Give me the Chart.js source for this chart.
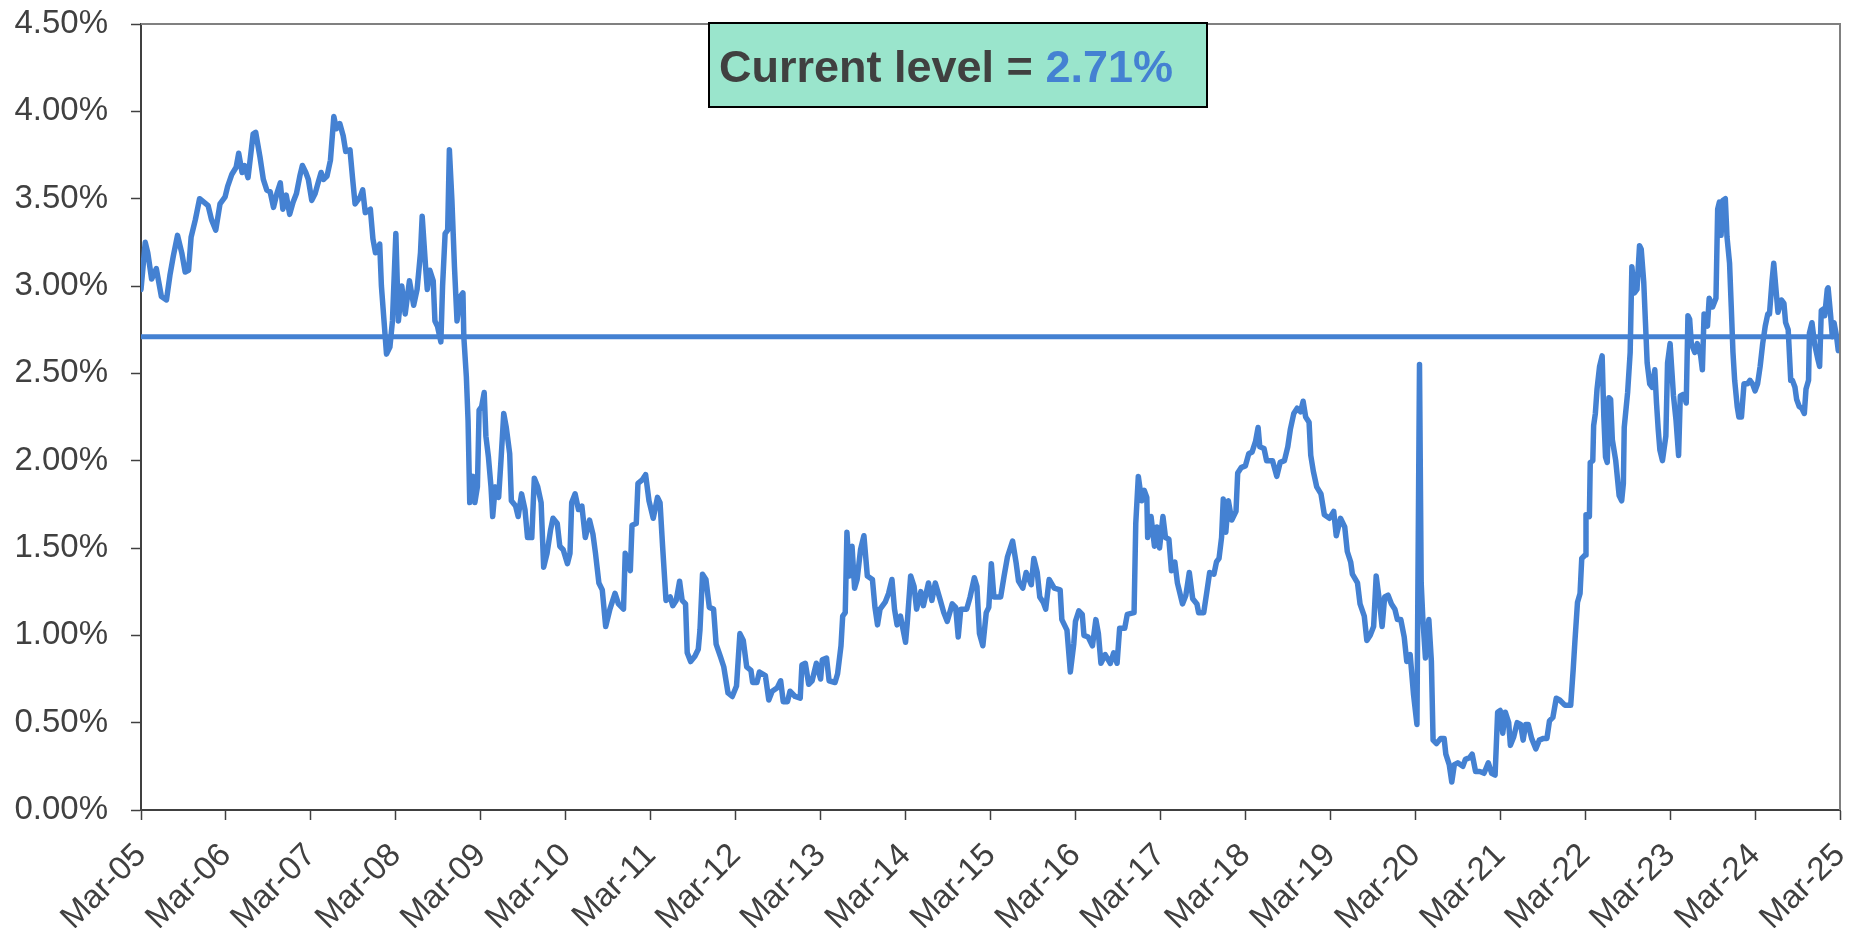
<!DOCTYPE html>
<html>
<head>
<meta charset="utf-8">
<script src="https://cdn.jsdelivr.net/npm/chart.js@4.4.1/dist/chart.umd.min.js"></script>
<style>
  html, body { margin: 0; padding: 0; background: #fff; }
  #wrap { width: 1860px; height: 928px; }
</style>
</head>
<body>
<div id="wrap"><canvas id="chartLevel" width="1860" height="928"></canvas></div>
<script>
// x ticks: one per year, starting Mar-05
var tickLabels = ['Mar-05', 'Mar-06', 'Mar-07', 'Mar-08', 'Mar-09', 'Mar-10', 'Mar-11', 'Mar-12', 'Mar-13', 'Mar-14',
  'Mar-15', 'Mar-16', 'Mar-17', 'Mar-18', 'Mar-19', 'Mar-20', 'Mar-21', 'Mar-22', 'Mar-23', 'Mar-24', 'Mar-25']

var currentLevel = 2.71

// years since Mar-05
var years = [
  0, 0.05, 0.08, 0.125, 0.18, 0.24, 0.30, 0.34, 0.38, 0.43, 0.48, 0.52, 0.56, 0.59, 0.64, 0.69, 0.74, 0.79, 0.83, 0.88,
  0.93, 0.99, 1.02, 1.07, 1.12, 1.15, 1.19, 1.22, 1.26, 1.32, 1.35, 1.40, 1.44, 1.48, 1.52, 1.56, 1.60, 1.64, 1.67, 1.71,
  1.75, 1.79, 1.83, 1.87, 1.90, 1.94, 1.97, 2.01, 2.05, 2.09, 2.12, 2.15, 2.19,
  2.23, 2.27, 2.30, 2.34, 2.38, 2.41, 2.46, 2.49, 2.52, 2.58, 2.61, 2.64, 2.70, 2.73, 2.76, 2.81, 2.83, 2.89, 2.93, 2.96,
  3.00, 3.03, 3.07, 3.11, 3.16, 3.21, 3.25, 3.29, 3.31, 3.35, 3.37, 3.40, 3.44, 3.46, 3.49, 3.53, 3.55, 3.58, 3.61, 3.63,
  3.66, 3.69, 3.72, 3.76, 3.79, 3.80, 3.83, 3.85, 3.87, 3.91, 3.93, 3.96, 3.98, 4.01, 4.04, 4.06, 4.09, 4.12, 4.14, 4.17,
  4.21, 4.24, 4.27, 4.30, 4.34, 4.36, 4.41, 4.44, 4.48, 4.52, 4.55, 4.60, 4.63, 4.67, 4.71, 4.74, 4.78, 4.82, 4.85, 4.90,
  4.93, 4.97, 5.02, 5.05, 5.07, 5.11, 5.15, 5.19, 5.23, 5.28, 5.32, 5.35, 5.39,
  5.43, 5.47, 5.52, 5.58, 5.62, 5.68, 5.70, 5.76, 5.78, 5.83, 5.85, 5.90, 5.94, 5.98, 6.03, 6.08, 6.11, 6.14, 6.18, 6.23,
  6.26, 6.30, 6.34, 6.37, 6.41, 6.43, 6.47, 6.52, 6.56, 6.58, 6.61, 6.65, 6.69, 6.74, 6.77, 6.82, 6.86, 6.91, 6.96, 7.01,
  7.05, 7.09, 7.13, 7.18, 7.20, 7.25, 7.28, 7.35, 7.39, 7.43, 7.49, 7.53, 7.56, 7.61, 7.64, 7.70, 7.76, 7.78, 7.82, 7.86,
  7.90, 7.95, 8.00, 8.02, 8.07, 8.10, 8.17, 8.20, 8.24, 8.26, 8.29, 8.31, 8.34, 8.37, 8.40, 8.43, 8.47, 8.51, 8.55, 8.61,
  8.64, 8.67, 8.70, 8.76, 8.80, 8.84, 8.87, 8.90, 8.94, 9.00, 9.02, 9.06, 9.10, 9.13, 9.18, 9.21, 9.27, 9.31, 9.35, 9.41,
  9.45, 9.49, 9.55, 9.59, 9.62, 9.65, 9.72, 9.76, 9.81, 9.84, 9.87, 9.91, 9.95, 9.98, 10.01, 10.04, 10.08,
  10.12, 10.16, 10.20, 10.26, 10.30, 10.33, 10.38, 10.42, 10.48, 10.51, 10.55, 10.58, 10.62, 10.65, 10.69, 10.75, 10.82,
  10.84, 10.90, 10.94, 10.98, 11.00, 11.04, 11.08, 11.10, 11.15, 11.20, 11.24, 11.27, 11.30, 11.35, 11.41, 11.45, 11.49,
  11.52, 11.58, 11.61, 11.69, 11.71, 11.74, 11.78, 11.81, 11.84, 11.85, 11.89, 11.93, 11.96, 11.99, 12.03, 12.06, 12.10,
  12.13, 12.17, 12.20, 12.26, 12.30, 12.34, 12.38, 12.43, 12.45, 12.51, 12.55, 12.58, 12.63, 12.66, 12.69, 12.72, 12.74,
  12.77, 12.80, 12.84, 12.89, 12.91, 12.95, 13.00, 13.04, 13.08, 13.12, 13.15, 13.17, 13.22, 13.25, 13.32, 13.37, 13.41,
  13.46, 13.50, 13.53, 13.57, 13.61, 13.65, 13.68,
  13.71, 13.75, 13.77, 13.80, 13.84, 13.89, 13.93, 13.99, 14.04, 14.07, 14.12, 14.17, 14.20, 14.24, 14.26, 14.32, 14.35,
  14.40, 14.43, 14.47, 14.51, 14.54, 14.58, 14.61, 14.64, 14.68, 14.72, 14.76, 14.79, 14.83, 14.87, 14.90, 14.94, 14.98,
  15.02, 15.03, 15.05, 15.07, 15.09, 15.12, 15.16, 15.19, 15.21, 15.25, 15.30, 15.34, 15.36, 15.40, 15.43, 15.46, 15.50,
  15.56, 15.59, 15.64, 15.67, 15.71, 15.76, 15.81, 15.86, 15.90, 15.94, 15.97, 16.00, 16.03, 16.06, 16.10, 16.12, 16.16,
  16.20, 16.24, 16.27, 16.30, 16.33, 16.37, 16.42, 16.46, 16.51, 16.55, 16.58, 16.62, 16.66, 16.70, 16.76, 16.83, 16.86,
  16.88, 16.91, 16.94, 16.96,
  17.00, 17.01, 17.05, 17.06, 17.09, 17.10, 17.12, 17.14, 17.17, 17.20, 17.22, 17.24, 17.26, 17.28, 17.30, 17.32, 17.36,
  17.40, 17.43, 17.45, 17.46, 17.50, 17.53, 17.55, 17.58, 17.61, 17.64, 17.66, 17.69, 17.71, 17.73, 17.76, 17.79, 17.82,
  17.84, 17.86, 17.88, 17.91, 17.95, 17.97, 18.00, 18.02, 18.04, 18.07, 18.10, 18.12, 18.16, 18.19, 18.21, 18.23, 18.25,
  18.29, 18.32, 18.36, 18.38, 18.40, 18.44, 18.46, 18.50, 18.54, 18.56, 18.58, 18.60, 18.62, 18.65, 18.67, 18.70, 18.72,
  18.74, 18.76, 18.79, 18.81, 18.84, 18.87, 18.91, 18.94, 18.97, 19.00, 19.03, 19.06, 19.09, 19.12, 19.15, 19.17, 19.20,
  19.22, 19.25, 19.27, 19.31, 19.34, 19.36, 19.39, 19.42, 19.44, 19.47, 19.49, 19.52, 19.55, 19.58, 19.60, 19.63, 19.64,
  19.67, 19.70, 19.74, 19.76, 19.78, 19.81, 19.82, 19.85, 19.86, 19.89, 19.91, 19.93, 19.96, 19.98, 20.00
]

// level in %
var levels = [
  2.98, 3.25, 3.19, 3.04, 3.10, 2.94, 2.92, 3.06, 3.17, 3.29, 3.19, 3.08, 3.09, 3.28, 3.38, 3.50, 3.48, 3.46, 3.38, 3.32,
  3.47, 3.51, 3.57, 3.64, 3.68, 3.76, 3.65, 3.69, 3.62, 3.87, 3.88, 3.74, 3.61, 3.55, 3.54, 3.45, 3.53, 3.59, 3.44, 3.52,
  3.41, 3.48, 3.53, 3.63, 3.69, 3.65, 3.61, 3.49, 3.53, 3.60, 3.65, 3.61, 3.63,
  3.72, 3.97, 3.90, 3.93, 3.86, 3.77, 3.78, 3.62, 3.47, 3.51, 3.55, 3.42, 3.44, 3.27, 3.19, 3.24, 3.00, 2.61, 2.65, 2.80,
  3.30, 2.80, 3.00, 2.84, 3.03, 2.89, 2.98, 3.19, 3.40, 3.11, 2.98, 3.09, 3.03, 2.80, 2.77, 2.68, 3.00, 3.30, 3.32, 3.78,
  3.49, 3.11, 2.80, 2.94, 2.96, 2.71, 2.48, 2.23, 1.76, 1.91, 1.76, 1.85, 2.29, 2.31, 2.39, 2.14, 2.02, 1.85, 1.68, 1.85,
  1.79, 2.02, 2.27, 2.19, 2.04, 1.77, 1.74, 1.68, 1.81, 1.72, 1.56, 1.56, 1.90, 1.85, 1.76, 1.39, 1.47, 1.60, 1.67, 1.64,
  1.51, 1.49, 1.41, 1.47, 1.76, 1.81, 1.72, 1.74, 1.56, 1.66, 1.58, 1.47, 1.30,
  1.26, 1.05, 1.15, 1.24, 1.18, 1.15, 1.47, 1.37, 1.63, 1.64, 1.87, 1.89, 1.92, 1.77, 1.67, 1.79, 1.76, 1.51, 1.20, 1.22,
  1.17, 1.20, 1.31, 1.20, 1.18, 0.90, 0.85, 0.88, 0.92, 1.03, 1.35, 1.32, 1.16, 1.15, 0.95, 0.88, 0.82, 0.67, 0.65, 0.71,
  1.01, 0.97, 0.82, 0.80, 0.73, 0.73, 0.79, 0.77, 0.63, 0.68, 0.70, 0.74, 0.62, 0.62, 0.68, 0.65, 0.64, 0.83, 0.84, 0.72,
  0.74, 0.84, 0.75, 0.86, 0.87, 0.74, 0.73, 0.78, 0.94, 1.11, 1.13, 1.59, 1.34, 1.51, 1.27, 1.32, 1.49, 1.57, 1.34, 1.32,
  1.16, 1.06, 1.15, 1.19, 1.24, 1.32, 1.15, 1.06, 1.11, 0.96, 1.07, 1.34, 1.28, 1.15, 1.25, 1.17, 1.30, 1.20, 1.30, 1.20,
  1.13, 1.08, 1.18, 1.16, 0.99, 1.15, 1.15, 1.22, 1.33, 1.28, 1.01, 0.94, 1.13, 1.16, 1.41, 1.22, 1.22,
  1.22, 1.34, 1.45, 1.54, 1.42, 1.31, 1.27, 1.36, 1.29, 1.44, 1.36, 1.22, 1.19, 1.15, 1.32, 1.27, 1.26,
  1.09, 1.03, 0.79, 0.95, 1.08, 1.14, 1.12, 1.00, 0.99, 0.94, 1.09, 1.01, 0.84, 0.89, 0.84, 0.90, 0.84,
  1.04, 1.04, 1.12, 1.13, 1.64, 1.91, 1.77, 1.83, 1.79, 1.56, 1.68, 1.51, 1.62, 1.50, 1.68, 1.56, 1.55,
  1.37, 1.42, 1.30, 1.18, 1.23, 1.36, 1.21, 1.18, 1.13, 1.13, 1.26, 1.36, 1.35, 1.42, 1.44, 1.56, 1.78,
  1.59, 1.77, 1.66, 1.71, 1.93, 1.96, 1.97, 2.04, 2.05, 2.11, 2.19, 2.08, 2.07, 2.00, 2.00, 1.91, 1.99,
  2.00, 2.08, 2.18, 2.27, 2.30, 2.28, 2.34,
  2.25, 2.22, 2.03, 1.94, 1.85, 1.81, 1.69, 1.67, 1.71, 1.57, 1.67, 1.62, 1.48, 1.42, 1.35, 1.30, 1.18,
  1.11, 0.97, 1.00, 1.05, 1.34, 1.19, 1.05, 1.22, 1.23, 1.18, 1.15, 1.09, 1.09, 0.99, 0.85, 0.89, 0.66,
  0.49, 1.19, 2.55, 1.30, 1.09, 0.87, 1.09, 0.85, 0.40, 0.38, 0.41, 0.41, 0.32, 0.26, 0.16, 0.26, 0.27,
  0.25, 0.29, 0.30, 0.32, 0.22, 0.22, 0.21, 0.27, 0.21, 0.20, 0.56, 0.57, 0.44, 0.56, 0.50, 0.37, 0.42,
  0.50, 0.49, 0.40, 0.49, 0.49, 0.41, 0.35, 0.40, 0.41, 0.41, 0.51, 0.53, 0.64, 0.63, 0.60, 0.60, 0.81,
  0.97, 1.19, 1.24, 1.44,
  1.46, 1.69, 1.68, 1.99, 2.00, 2.20, 2.27, 2.41, 2.54, 2.60, 2.25, 2.02, 1.99, 2.36, 2.35, 2.12, 2.00,
  1.80, 1.77, 1.87, 2.19, 2.39, 2.62, 3.11, 2.96, 2.98, 3.23, 3.21, 3.02, 2.79, 2.56, 2.44, 2.42, 2.52,
  2.33, 2.18, 2.06, 2.00, 2.14, 2.56, 2.67, 2.52, 2.37, 2.23, 2.03, 2.37, 2.38, 2.33, 2.83, 2.81, 2.67,
  2.62, 2.67, 2.60, 2.52, 2.84, 2.77, 2.93, 2.88, 2.93, 3.44, 3.48, 3.29, 3.49, 3.50, 3.28, 3.13, 2.88,
  2.62, 2.46, 2.31, 2.25, 2.25, 2.44, 2.44, 2.46, 2.44, 2.40, 2.44, 2.54, 2.67, 2.77, 2.84, 2.84, 3.03,
  3.13, 2.96, 2.85, 2.92, 2.90, 2.79, 2.75, 2.46, 2.46, 2.42, 2.35, 2.31, 2.30, 2.27, 2.41, 2.46, 2.73,
  2.79, 2.67, 2.58, 2.54, 2.86, 2.87, 2.83, 2.98, 2.99, 2.83, 2.71, 2.79, 2.71, 2.63, 2.69
]

var blue = '#4481d2'
var textGrey = '#404040'
var fontFamily = '"Liberation Sans", Arial, sans-serif'

var series = years.map(function (t, i) { return { x: t, y: levels[i] } })
var levelLine = [{ x: 0, y: currentLevel }, { x: tickLabels.length - 1, y: currentLevel }]

// grey top/right frame and the "Current level" label box
var frame = {
  id: 'frame',
  afterDraw: function (chart) {
    var ctx = chart.ctx
    var a = chart.chartArea
    ctx.save()
    ctx.strokeStyle = '#808080'
    ctx.lineWidth = 2
    ctx.beginPath()
    ctx.moveTo(a.left, a.top)
    ctx.lineTo(a.right, a.top)
    ctx.lineTo(a.right, a.bottom)
    ctx.stroke()

    var bx = a.left + 568
    var by = a.top - 1
    ctx.fillStyle = '#9ae5cc'
    ctx.fillRect(bx, by, 498, 84)
    ctx.strokeStyle = '#000'
    ctx.lineWidth = 2
    ctx.strokeRect(bx, by, 498, 84)

    ctx.font = 'bold 45px ' + fontFamily
    ctx.textBaseline = 'alphabetic'
    ctx.textAlign = 'left'
    var label = 'Current level = '
    ctx.fillStyle = textGrey
    ctx.fillText(label, bx + 10, by + 59)
    ctx.fillStyle = blue
    ctx.fillText(currentLevel.toFixed(2) + '%', bx + 10 + ctx.measureText(label).width, by + 59)
    ctx.restore()
  }
}

var ctx = document.getElementById('chartLevel').getContext('2d')

var chart = new Chart(ctx, {
  type: 'line',
  data: {
    datasets: [
      {
        label: 'Current level',
        data: levelLine,
        borderColor: blue,
        borderWidth: 5,
        pointRadius: 0,
      },
      {
        label: 'Level',
        data: series,
        borderColor: blue,
        borderWidth: 5.5,
        pointRadius: 0,
        borderJoinStyle: 'round',
        borderCapStyle: 'round',
        tension: 0,
      },
    ],
  },
  options: {
    responsive: false,
    animation: false,
    layout: { padding: { top: 24, right: 20, left: 0, bottom: 0 } },
    plugins: { legend: { display: false }, tooltip: { enabled: false } },
    scales: {
      x: {
        type: 'linear',
        min: 0,
        max: tickLabels.length - 1,
        afterFit: function (s) {
          s.height = 118
          s.paddingLeft = 0
          s.paddingRight = 0
        },
        ticks: {
          stepSize: 1,
          autoSkip: false,
          maxRotation: 45,
          minRotation: 45,
          padding: 16,
          color: textGrey,
          font: { family: fontFamily, size: 33 },
          callback: function (v) { return tickLabels[Math.round(v)] },
        },
        grid: { drawOnChartArea: false, tickLength: 10, tickColor: textGrey, tickWidth: 1.5 },
        border: { color: textGrey, width: 2 },
      },
      y: {
        min: 0,
        max: 4.5,
        afterFit: function (s) {
          s.width = 141
          s.paddingTop = 0
          s.paddingBottom = 0
        },
        ticks: {
          stepSize: 0.5,
          padding: 23,
          color: textGrey,
          font: { family: fontFamily, size: 33 },
          callback: function (v) { return v.toFixed(2) + '%' },
        },
        grid: { drawOnChartArea: false, tickLength: 10, tickColor: textGrey, tickWidth: 1.5 },
        border: { color: textGrey, width: 2 },
      },
    },
  },
  plugins: [frame],
})
</script>
</body>
</html>
